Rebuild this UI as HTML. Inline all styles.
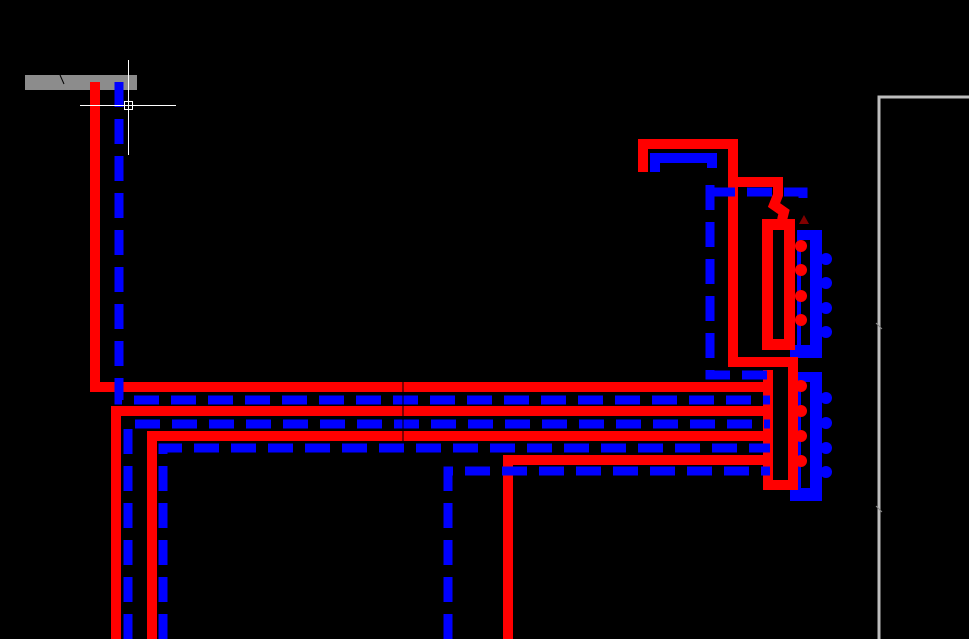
<!DOCTYPE html>
<html><head><style>html,body{margin:0;padding:0;background:#000;}svg{display:block}</style></head>
<body>
<svg width="969" height="639" viewBox="0 0 969 639" xmlns="http://www.w3.org/2000/svg">
<rect width="969" height="639" fill="#000"/>
<rect x="25" y="75" width="112" height="15" fill="#8c8c8c"/>
<line x1="60" y1="75" x2="64" y2="84" stroke="#000" stroke-width="1"/>
<polyline points="879,639 879,97 969,97" fill="none" stroke="#bdbdbd" stroke-width="3"/>
<line x1="876" y1="323" x2="882" y2="329" stroke="#888" stroke-width="1"/>
<line x1="876" y1="506" x2="882" y2="512" stroke="#888" stroke-width="1"/>
<g fill="none" stroke-linejoin="miter">
<g fill="#0000ff" stroke="none">
<rect x="797" y="230" width="25" height="10"/>
<rect x="810" y="230" width="12" height="128"/>
<rect x="797" y="230" width="4" height="128"/>
<rect x="790" y="345" width="32" height="13"/>
<rect x="797" y="372" width="25" height="10"/>
<rect x="810" y="372" width="12" height="128"/>
<rect x="797" y="372" width="4" height="128"/>
<rect x="790" y="488" width="32" height="13"/>
<circle cx="826" cy="259" r="6"/><circle cx="826" cy="283" r="6"/><circle cx="826" cy="308" r="6"/><circle cx="826" cy="332" r="6"/>
<circle cx="826" cy="398" r="6"/><circle cx="826" cy="423" r="6"/><circle cx="826" cy="448" r="6"/><circle cx="826" cy="472" r="6"/>
</g>
<g stroke="#ff0000" stroke-width="10">
<polyline points="95,82 95,387 772,387"/>
<polyline points="116,639 116,411 772,411"/>
<polyline points="152,639 152,436 772,436"/>
<polyline points="508,639 508,460 772,460"/>
<polyline points="643,172 643,144 733,144 733,182 778,182 778,195 774,205 784,212 782,220"/>
<polyline points="733,144 733,362 793,362 793,485 768,485 768,370"/>
</g>
<rect x="767.5" y="224.5" width="22" height="120" stroke="#ff0000" stroke-width="11"/>
<g fill="#ff0000" stroke="none">
<circle cx="801" cy="246" r="6"/><circle cx="801" cy="270" r="6"/><circle cx="801" cy="296" r="6"/><circle cx="801" cy="320" r="6"/>
<circle cx="801" cy="386" r="6"/><circle cx="801" cy="411" r="6"/><circle cx="801" cy="436" r="6"/><circle cx="801" cy="461" r="6"/>
</g>
<g stroke="#0000ff" stroke-width="9" stroke-dasharray="25,12">
<polyline points="119,82 119,385 119,400 770,400"/>
<polyline points="128,639 128,424 770,424"/>
<polyline points="163,639 163,448 770,448"/>
<polyline points="448,639 448,471 770,471"/>
<polyline points="710,185 710,375 770,375"/>
<polyline points="710,192 803,192 803,210"/>
</g>
<g stroke="#0000ff" stroke-width="10">
<polyline points="655,172 655,158 712,158 712,168"/>
</g>
</g>
<polygon points="804,215 799,224 809,224" fill="#800000"/>
<line x1="403" y1="380" x2="403" y2="442" stroke="#000" stroke-width="1"/>
<g stroke="#fff" stroke-width="1">
<line x1="80" y1="105.5" x2="176" y2="105.5"/>
<line x1="128.5" y1="60" x2="128.5" y2="155"/>
<rect x="124.5" y="101.5" width="8" height="8" fill="none"/>
</g>
</svg>
</body></html>
